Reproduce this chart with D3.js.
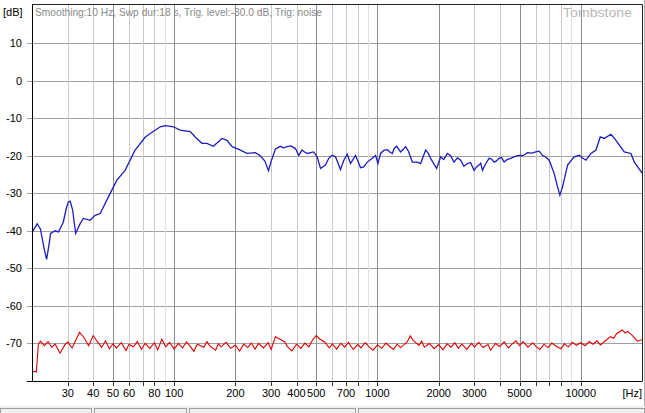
<!DOCTYPE html>
<html><head><meta charset="utf-8">
<script src="https://cdn.jsdelivr.net/npm/d3@7"></script>
<style>
html,body{margin:0;padding:0;background:#fff;}
svg{display:block;font-family:"Liberation Sans",Arial,sans-serif;}
</style></head>
<body>
<svg id="chart" width="645" height="413"></svg>
<script>
// ---- data ----
const gridFreqs = [30,40,50,60,70,80,90,100,200,300,400,500,600,700,800,900,1000,2000,3000,4000,5000,6000,7000,8000,9000,10000];
const majorFreqs = [50,100,200,500,1000,2000,5000,10000];
const faintFreqs = [90,900,9000];
const xTickLabels = [30,40,50,60,80,100,200,300,400,500,700,1000,2000,3000,5000,10000];
const yTickValues = [10,0,-10,-20,-30,-40,-50,-60,-70];
const headerText = "Smoothing:10 Hz, Swp dur:18 s, Trig. level:-30.0 dB, Trig: noise";

const blueFreq = [20,21.2,22,23,23.6,24.2,24.7,26,27,28.5,29.5,30.2,30.8,31.7,32.3,32.8,34.5,35.8,38.6,40.9,43.3,48.4,52.3,57.4,64.3,72,76.3,80.7,85.4,90.4,99.3,107,120,127,137,145,156,172,182,193,212,228,251,266,280,291,300,315,333,345,359,375,395,410,426,438,451,486,505,525,555,576,599,622,658,683,710,737,780,826,857,891,943,979,1005,1036,1075,1118,1150,1183,1210,1242,1300,1340,1376,1420,1484,1571,1630,1726,1775,1826,1954,2046,2120,2208,2290,2380,2470,2568,2660,2770,2870,2986,3070,3158,3220,3284,3400,3538,3640,3746,3850,3964,4080,4196,4350,4526,4750,4974,5200,5470,5740,6010,6240,6484,6730,6988,7396,7686,7890,8136,8610,9280,9820,10200,10598,11218,11870,12464,13044,14074,14894,16360,17652,18328,20000];
const blueDb = [-40.5,-38.1,-39.5,-45,-47.6,-44,-40.7,-40,-40.3,-37.7,-34,-32.3,-32.1,-34.5,-38,-40.7,-38.1,-36.7,-37.2,-35.9,-35.4,-30.1,-26.5,-23.9,-18.5,-15.1,-14.1,-13.2,-12.3,-12.0,-12.3,-13.2,-13.6,-15,-16.7,-16.7,-17.5,-15.4,-15.9,-17.6,-18.5,-19.4,-19.2,-20.1,-21.5,-24,-21.5,-18.2,-17.5,-17.9,-17.6,-17.4,-18.1,-19.9,-18.5,-19.0,-19.4,-19,-20.3,-23.4,-22.5,-20.7,-19.9,-20.3,-23.7,-21.2,-19.6,-22.1,-19.9,-23.2,-23,-21.7,-20.7,-19.9,-22.1,-19.4,-18.6,-18.4,-19.0,-19.4,-18.0,-17.5,-19,-18.3,-17.6,-18.8,-21.7,-21.7,-22.1,-18.5,-19.3,-20.7,-23.4,-20.3,-21.0,-19.4,-20.0,-21.7,-20.6,-21.2,-22.8,-22.1,-21.8,-23.9,-23.0,-22.5,-22.0,-23.9,-22.2,-20.7,-20.9,-21.7,-21.4,-20.7,-20.5,-21.7,-21.0,-20.7,-20.2,-19.9,-20.0,-19.2,-19.3,-19,-18.8,-19.9,-20.4,-21.2,-24.7,-28.3,-30.5,-28.3,-22.5,-20.3,-19.9,-20.6,-21.2,-19.4,-18.5,-15,-15.4,-14.3,-15.9,-19,-19.4,-21.7,-24.6];

const redFreq = [20,20.5,21,21.5,22,23,24,25,26,27.5,29,30,31.5,33,34.3,36,38,40,42,44,46,48,50,52,55,58,60,63,66,69,72,76,80,83,87,91,95,
100,105,110,115,120,125,130,140,145,150,160,165,170,180,190,200,210,220,230,240,250,260,275,290,300,315,330,350,360,380,400,420,440,460,480,500,520,550,580,600,630,660,690,720,760,800,830,870,910,950,
1000,1050,1100,1150,1200,1250,1300,1400,1450,1500,1600,1650,1700,1800,1900,2000,2100,2200,2300,2400,2500,2600,2750,2900,3000,3150,3300,3500,3600,3800,4000,4200,4400,4600,4800,5000,5200,5500,5800,6000,6300,6600,6900,7200,7600,8000,8300,8700,9100,9500,
10000,10500,11000,11500,12000,12500,13000,14000,14500,15000,16000,16500,17000,18000,19000,20000];
const redDb = [-77.6,-77.4,-77.6,-70.2,-69.4,-70.6,-69.5,-71.0,-70.2,-72.6,-70.4,-69.6,-71.2,-68.9,-67.0,-68.4,-70.6,-67.9,-69.6,-71.0,-69.3,-71.4,-70.1,-71.2,-69.8,-71.9,-70.2,-70.9,-69.5,-71.6,-70.0,-71.3,-69.8,-71.7,-68.9,-70.9,-69.7,
-71.5,-70.0,-71.2,-69.6,-70.8,-72.1,-70.2,-71.0,-69.5,-70.7,-71.8,-70.1,-70.9,-69.7,-71.3,-70.4,-72.0,-70.2,-71.1,-69.9,-71.5,-70.0,-71.2,-69.8,-71.6,-68.2,-68.8,-69.6,-70.8,-72.0,-70.2,-71.3,-69.9,-70.9,-69.0,-67.9,-68.8,-69.6,-71.2,-70.1,-71.5,-70.0,-71.0,-69.7,-71.6,-70.3,-71.2,-69.8,-70.9,-71.8,
-70.4,-71.3,-69.9,-70.8,-71.6,-70.2,-71.1,-69.6,-68.0,-69.2,-70.5,-69.4,-71.0,-70.0,-71.4,-70.3,-71.7,-70.1,-71.0,-69.8,-71.3,-70.2,-71.6,-70.0,-70.9,-69.7,-71.1,-70.3,-71.8,-70.0,-70.8,-69.6,-71.2,-70.1,-69.3,-70.6,-69.5,-71.0,-69.8,-70.7,-71.6,-70.2,-71.1,-69.9,-70.8,-71.4,-70.1,-70.9,-69.7,-70.5,
-69.8,-70.6,-69.5,-70.2,-69.3,-70.4,-69.6,-68.2,-68.6,-67.4,-66.4,-67.2,-66.8,-68.0,-69.4,-69.0];

// ---- chart ----
const svg = d3.select("#chart");
const L = 32, R = 642, T = 5.5, B = 381;
const x = d3.scaleLog().domain([20,20000]).range([L,R]);
const y = d3.scaleLinear().domain([-80,20]).range([B,T]);

// status bar
const sb = svg.append("g");
sb.append("rect").attr("x",0).attr("y",406).attr("width",645).attr("height",7).attr("fill","#f0f0f0");
[[0,92],[94,187],[189,356],[358,645]].forEach(p=>{
  sb.append("rect").attr("x",p[0]+0.5).attr("y",408.5).attr("width",p[1]-p[0]-1).attr("height",6)
    .attr("fill","none").attr("stroke","#a0a0a0");
});
svg.append("line").attr("x1",644.5).attr("x2",644.5).attr("y1",0).attr("y2",406).attr("stroke","#b0b0b0");

// horizontal grid
svg.append("g").selectAll("line").data(yTickValues).join("line")
  .attr("x1",27).attr("x2",R).attr("y1",d=>Math.round(y(d))+0.5).attr("y2",d=>Math.round(y(d))+0.5)
  .attr("stroke","#a0a0a0");

// vertical grid
const gcol = d => majorFreqs.includes(d) ? "#8c8c8c" : (faintFreqs.includes(d) ? "#e2e2e2" : "#c8c8c8");
svg.append("g").selectAll("line").data(gridFreqs).join("line")
  .attr("x1",d=>Math.round(x(d))+0.5).attr("x2",d=>Math.round(x(d))+0.5)
  .attr("y1",T-1).attr("y2",B).attr("stroke",gcol);
svg.append("g").selectAll("line").data(gridFreqs).join("line")
  .attr("x1",d=>Math.round(x(d))+0.5).attr("x2",d=>Math.round(x(d))+0.5)
  .attr("y1",B).attr("y2",B+5).attr("stroke",d=>faintFreqs.includes(d)?"#c8c8c8":"#333");

// frame
svg.append("line").attr("x1",L).attr("x2",R+0.5).attr("y1",4.5).attr("y2",4.5).attr("stroke","#222");
svg.append("line").attr("x1",R+0.5).attr("x2",R+0.5).attr("y1",4.5).attr("y2",B).attr("stroke","#222");
svg.append("line").attr("x1",L+0.5).attr("x2",L+0.5).attr("y1",4.5).attr("y2",B+0.5).attr("stroke","#000");
svg.append("line").attr("x1",27).attr("x2",R+0.5).attr("y1",B+0.5).attr("y2",B+0.5).attr("stroke","#000");

// labels
svg.append("g").selectAll("text").data(yTickValues).join("text")
  .attr("x",22).attr("y",d=>y(d)).attr("dy","0.36em").attr("text-anchor","end")
  .attr("font-size",11).attr("fill","#000").text(d=>d);
svg.append("g").selectAll("text").data(xTickLabels).join("text")
  .attr("x",d=>x(d)).attr("y",396.5).attr("text-anchor","middle")
  .attr("font-size",11).attr("fill","#000").text(d=>d);
svg.append("text").attr("x",642).attr("y",396.5).attr("text-anchor","end").attr("font-size",11).text("[Hz]");
svg.append("text").attr("x",3).attr("y",16).attr("font-size",11).text("[dB]");

svg.append("text").attr("x",35).attr("y",16).attr("font-size",11).attr("fill","#8a8a8a")
  .attr("textLength",287).attr("lengthAdjust","spacingAndGlyphs").text(headerText);
svg.append("text").attr("x",563).attr("y",17).attr("font-size",12.5).attr("fill","#b8b8b8")
  .attr("textLength",69).attr("lengthAdjust","spacingAndGlyphs").text("Tombstone");

// curves
svg.append("clipPath").attr("id","clip").append("rect").attr("x",L+1).attr("y",T).attr("width",R-L-1).attr("height",B-T);
const line = d3.line().x(d=>x(d[0])).y(d=>y(d[1]));
const red = redFreq.map((f,i)=>[f,redDb[i]]);
const blue = blueFreq.map((f,i)=>[f,blueDb[i]]);
svg.append("path").attr("d",line(red)).attr("fill","none").attr("stroke","#e00000").attr("stroke-width",1.1).attr("clip-path","url(#clip)");
svg.append("path").attr("d",line(blue)).attr("fill","none").attr("stroke","#1c1cc0").attr("stroke-width",1.3).attr("clip-path","url(#clip)");
</script>
</body></html>
